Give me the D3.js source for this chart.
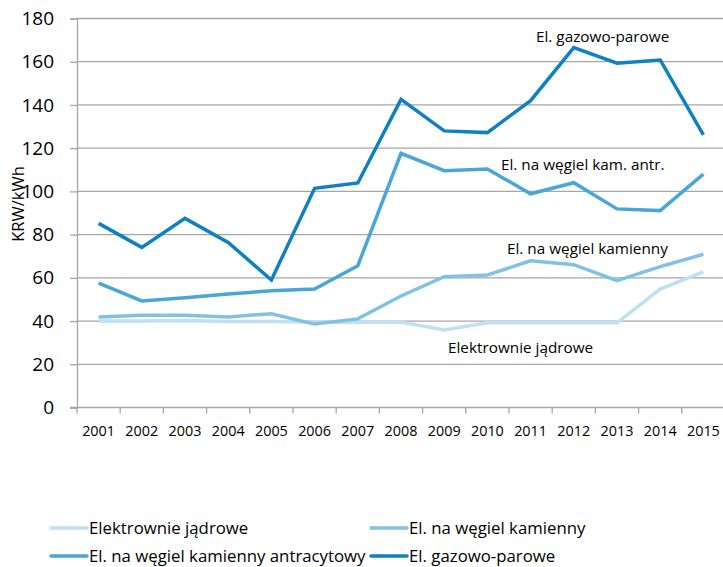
<!DOCTYPE html>
<html>
<head>
<meta charset="utf-8">
<script src="https://cdn.jsdelivr.net/npm/d3@7"></script>
<style>
  body { margin: 0; background: #fff; }
  text { font-family: "Open Sans", Lato, sans-serif; fill: #000; }
</style>
</head>
<body>
<div id="chart"></div>
<script>
// data
var years = ['2001','2002','2003','2004','2005','2006','2007','2008','2009','2010','2011','2012','2013','2014','2015'];
var jadrowe   = [40, 40, 40.3, 39.8, 39.8, 39.5, 39.5, 39.5, 35.9, 39.2, 39.2, 39.2, 39.2, 54.8, 62.8];
var kamienny  = [41.9, 42.7, 42.7, 41.9, 43.4, 38.6, 41, 51.6, 60.5, 61.3, 67.9, 66.1, 58.7, 65.2, 70.9];
var antracyt  = [57.5, 49.3, 50.8, 52.5, 54, 54.8, 65.6, 117.6, 109.6, 110.4, 98.9, 104, 91.9, 91.1, 108];
var gazowe    = [85.2, 74.1, 87.5, 76.4, 59, 101.4, 103.9, 142.6, 128, 127.2, 142, 166.5, 159.3, 160.8, 126.1];
var seriesNames = ['Elektrownie jądrowe', 'El. na węgiel kamienny', 'El. na węgiel kamienny antracytowy', 'El. gazowo-parowe'];
var labels = ['Elektrownie jądrowe', 'El. na węgiel kamienny', 'El. na węgiel kam. antr.', 'El. gazowo-parowe'];
var yTicks = [0, 20, 40, 60, 80, 100, 120, 140, 160, 180];

var series = [jadrowe, kamienny, antracyt, gazowe].map(function(v, i) {
  return {name: seriesNames[i], label: labels[i], values: v};
});

var colors = ['#bfe0f1', '#7fc2e5', '#49a7d8', '#0f80c4'];

var width = 723, height = 567;
var svg = d3.select('#chart').append('svg')
  .attr('width', width).attr('height', height);

var x = d3.scaleBand().domain(years).range([77, 725]);
var y = d3.scaleLinear().domain([0, 180]).range([407.5, 18.5]);

// gridlines
svg.append('g').selectAll('line')
  .data(yTicks.filter(function(d) { return d > 0; }))
  .enter().append('line')
  .attr('x1', 77).attr('x2', 725)
  .attr('y1', function(d) { return y(d); })
  .attr('y2', function(d) { return y(d); })
  .attr('stroke', '#a6a6a6').attr('stroke-width', 1.3);

// y axis
var yAxis = svg.append('g')
  .attr('transform', 'translate(77,0)')
  .call(d3.axisLeft(y).tickValues(yTicks).tickSize(7).tickPadding(16));
yAxis.select('.domain').attr('stroke', '#a6a6a6').attr('stroke-width', 1.3);
yAxis.selectAll('.tick line').attr('stroke', '#a6a6a6').attr('stroke-width', 1.3);
yAxis.selectAll('.tick text')
  .style('font-size', '19px')
  .style('font-family', '"Open Sans", sans-serif')
  .attr('fill', '#000');

// x axis: ticks on band boundaries
var xAxis = svg.append('g').attr('transform', 'translate(0,' + y(0) + ')');
xAxis.append('line').attr('x1', 70).attr('x2', 725).attr('stroke', '#a6a6a6').attr('stroke-width', 1.3);
xAxis.selectAll('.xt').data(years).enter().append('line')
  .attr('x1', function(d) { return x(d); }).attr('x2', function(d) { return x(d); })
  .attr('y1', 0).attr('y2', 6)
  .attr('stroke', '#a6a6a6').attr('stroke-width', 1.3);
xAxis.selectAll('text').data(years).enter().append('text')
  .attr('x', function(d) { return x(d) + x.bandwidth() / 2; })
  .attr('y', 28.5)
  .attr('text-anchor', 'middle')
  .style('font-size', '14.4px')
  .text(function(d) { return d; });

// y axis title
svg.append('text')
  .attr('transform', 'translate(24,204) rotate(-90)')
  .attr('text-anchor', 'middle')
  .style('font-size', '16.5px')
  .text('KRW/kWh');

// lines
var line = d3.line()
  .x(function(d, i) { return x(years[i]) + x.bandwidth() / 2; })
  .y(function(d) { return y(d); });

svg.append('g').selectAll('path')
  .data(series).enter().append('path')
  .attr('d', function(d) { return line(d.values); })
  .attr('fill', 'none')
  .attr('stroke', function(d, i) { return colors[i]; })
  .attr('stroke-width', 3.5)
  .attr('stroke-linejoin', 'miter');

// in-chart labels
var labelPos = [[448, 353], [507, 254], [501, 170], [536, 42]];
svg.append('g').selectAll('text')
  .data(series).enter().append('text')
  .attr('x', function(d, i) { return labelPos[i][0]; })
  .attr('y', function(d, i) { return labelPos[i][1]; })
  .style('font-size', '15.3px')
  .text(function(d) { return d.label; });

// legend
var legendPos = [[51, 528], [371, 528], [51, 556], [371, 556]];
var legend = svg.append('g').selectAll('g')
  .data(series).enter().append('g')
  .attr('transform', function(d, i) { return 'translate(' + legendPos[i] + ')'; });
legend.append('line')
  .attr('x1', 0).attr('x2', 36)
  .attr('stroke', function(d, i) { return colors[i]; })
  .attr('stroke-width', 3.5)
  .attr('stroke-linecap', 'round');
legend.append('text')
  .attr('x', 38).attr('y', 6)
  .style('font-size', '16.8px')
  .text(function(d) { return d.name; });
</script>
</body>
</html>
